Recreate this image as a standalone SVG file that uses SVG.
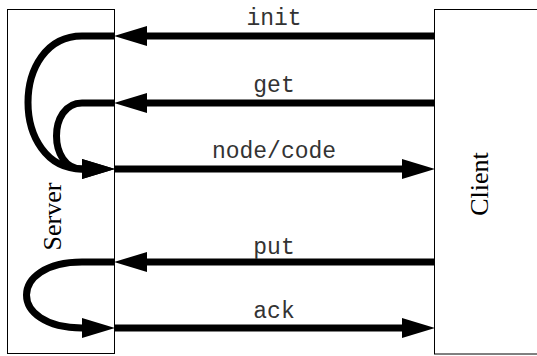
<svg xmlns="http://www.w3.org/2000/svg" width="537" height="356" viewBox="0 0 537 356">
  <style>
    .box { fill: #fff; stroke: #000; stroke-width: 1; }
    .name { font-family: "Liberation Serif", "Times New Roman", serif; font-size: 26px; fill: #000; text-anchor: middle; }
    .msg { font-family: "Liberation Mono", "Courier New", monospace; font-size: 23px; fill: #333; text-anchor: middle; }
    .wire { fill: none; stroke: #000; stroke-width: 7; marker-end: url(#head); }
  </style>
  <defs>
    <marker id="head" markerUnits="userSpaceOnUse" markerWidth="33" markerHeight="20" refX="0" refY="10" orient="auto" overflow="visible">
      <path d="M0,0 L33,10 L0,20 Z" fill="#000"/>
    </marker>
  </defs>
  <rect width="537" height="356" fill="#fff"/>

  <g id="server">
    <rect class="box" x="7.5" y="9.5" width="107" height="344"/>
    <text class="name" transform="translate(61,216.5) rotate(-90)">Server</text>
  </g>

  <g id="client">
    <rect class="box" x="434.5" y="9.5" width="120" height="344.5"/>
    <text class="name" transform="translate(488,184) rotate(-90)">Client</text>
  </g>

  <g id="connectors">
    <!-- client to server messages -->
    <path class="wire" d="M434,36 H147"/>
    <path class="wire" d="M434,103 H147"/>
    <path class="wire" d="M434,262 H147"/>
    <!-- server to client messages -->
    <path class="wire" d="M114,169 H402"/>
    <path class="wire" d="M114,328 H402"/>
    <!-- loops inside the server -->
    <path class="wire" d="M114,36 H82 C10,36 10,169 82,169"/>
    <path class="wire" d="M114,103 H82 C48,103 48,169 82,169"/>
    <path class="wire" d="M114,262 H82 C8,262 8,328 82,328"/>
  </g>

  <g id="labels">
    <text class="msg" x="274" y="25">init</text>
    <text class="msg" x="274" y="92">get</text>
    <text class="msg" x="274" y="158">node/code</text>
    <text class="msg" x="274" y="254">put</text>
    <text class="msg" x="274" y="318">ack</text>
  </g>
</svg>
